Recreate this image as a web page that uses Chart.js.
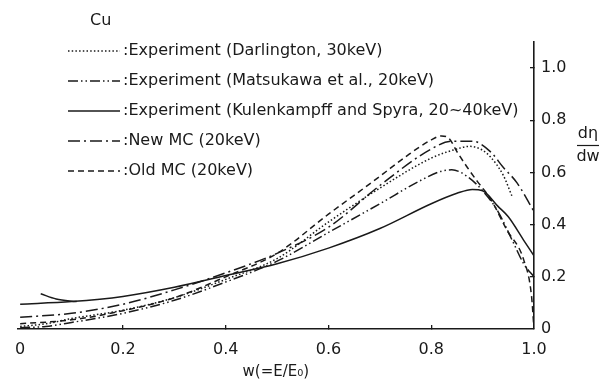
<!DOCTYPE html>
<html>
<head>
<meta charset="utf-8">
<script src="https://cdn.jsdelivr.net/npm/chart.js@4.4.1/dist/chart.umd.min.js"></script>
<style>
  html, body { margin: 0; padding: 0; background: #fff; }
  #wrap { width: 600px; height: 381px; position: relative; }
</style>
</head>
<body>
<div id="wrap"><canvas id="spectrum"></canvas></div>
<script>
// Energy spectrum of backscattered electrons from Cu, dη/dw vs w = E/E0

const xTicks = [0, 0.2, 0.4, 0.6, 0.8, 1.0];
const yTicks = [0, 0.2, 0.4, 0.6, 0.8, 1.0];

const darlingtonW   = [0, 0.05, 0.1, 0.2, 0.3, 0.4, 0.5, 0.6, 0.7, 0.8, 0.85, 0.875, 0.9, 0.915, 0.94, 0.957];
const darlingtonEta = [0.01, 0.02, 0.04, 0.072, 0.12, 0.19, 0.27, 0.41, 0.54, 0.655, 0.69, 0.70, 0.685, 0.66, 0.59, 0.51];

const matsukawaW   = [0, 0.05, 0.1, 0.2, 0.3, 0.4, 0.5, 0.6, 0.7, 0.78, 0.82, 0.84, 0.87, 0.9, 0.93, 0.96, 0.98, 1.0];
const matsukawaEta = [0.005, 0.01, 0.025, 0.06, 0.11, 0.18, 0.26, 0.37, 0.48, 0.57, 0.605, 0.61, 0.585, 0.53, 0.45, 0.33, 0.25, 0.2];

const kulenkampffW   = [0, 0.1, 0.2, 0.3, 0.4, 0.5, 0.6, 0.7, 0.8, 0.85, 0.88, 0.9, 0.93, 0.95, 0.98, 1.0];
const kulenkampffEta = [0.095, 0.105, 0.125, 0.16, 0.205, 0.25, 0.31, 0.385, 0.48, 0.52, 0.535, 0.53, 0.47, 0.43, 0.34, 0.28];

// short upper branch of the Kulenkampff band at low w
const kulenkampffHiW   = [0.04, 0.07, 0.11];
const kulenkampffHiEta = [0.135, 0.115, 0.105];

const newMcW   = [0, 0.1, 0.2, 0.3, 0.4, 0.5, 0.6, 0.7, 0.8, 0.84, 0.88, 0.915, 0.94, 0.967, 1.0];
const newMcEta = [0.045, 0.06, 0.095, 0.15, 0.215, 0.29, 0.39, 0.55, 0.69, 0.72, 0.72, 0.68, 0.62, 0.56, 0.45];

const oldMcW   = [0, 0.1, 0.2, 0.3, 0.4, 0.5, 0.6, 0.7, 0.75, 0.8, 0.82, 0.835, 0.85, 0.87, 0.89, 0.915, 0.947, 0.98, 0.995, 1.0];
const oldMcEta = [0.02, 0.035, 0.07, 0.12, 0.2, 0.29, 0.44, 0.585, 0.66, 0.725, 0.74, 0.73, 0.68, 0.62, 0.565, 0.50, 0.38, 0.265, 0.13, 0.0];

const INK = '#1a1a1a';
const FONT = 'DejaVu Sans, sans-serif';

const pts = (ws, vs) => ws.map((w, i) => ({ x: w, y: vs[i] }));

function line(label, data, dash, legend) {
  return {
    label,
    data,
    borderColor: INK,
    borderWidth: 1.5,
    borderDash: dash,
    pointRadius: 0,
    fill: false,
    cubicInterpolationMode: 'monotone',
    inLegend: legend,
  };
}

const datasets = [
  line('Experiment (Darlington, 30keV)', pts(darlingtonW, darlingtonEta), [1.5, 2.2], true),
  line('Experiment (Matsukawa et al., 20keV)', pts(matsukawaW, matsukawaEta), [10, 3, 1.5, 3, 1.5, 3], true),
  line('Experiment (Kulenkampff and Spyra, 20~40keV)', pts(kulenkampffW, kulenkampffEta), [], true),
  line('New MC (20keV)', pts(newMcW, newMcEta), [12, 4, 2, 4], true),
  line('Old MC (20keV)', pts(oldMcW, oldMcEta), [6, 4], true),
  line('', pts(kulenkampffHiW, kulenkampffHiEta), [], false),
];

// Legend block, element label and the dη/dw fraction
const annotations = {
  id: 'annotations',
  afterDraw(chart) {
    const ctx = chart.ctx;
    ctx.save();
    ctx.fillStyle = INK;
    ctx.strokeStyle = INK;
    ctx.font = '16px ' + FONT;
    ctx.textBaseline = 'middle';
    ctx.textAlign = 'left';
    ctx.fillText('Cu', 90, 21);

    const rows = [51, 81, 111, 141, 171];
    chart.data.datasets.filter(d => d.inLegend).forEach((d, i) => {
      const y = rows[i];
      ctx.beginPath();
      ctx.lineWidth = d.borderWidth;
      ctx.setLineDash(d.borderDash);
      ctx.moveTo(68, y);
      ctx.lineTo(120, y);
      ctx.stroke();
      ctx.setLineDash([]);
      ctx.fillText(':' + d.label, 123, y);
    });

    ctx.textAlign = 'center';
    ctx.fillText('dη', 588, 134);
    ctx.fillText('dw', 588, 157);
    ctx.beginPath();
    ctx.lineWidth = 1.2;
    ctx.moveTo(577, 145.5);
    ctx.lineTo(599, 145.5);
    ctx.stroke();
    ctx.restore();
  },
};

new Chart(document.getElementById('spectrum'), {
  type: 'line',
  data: { datasets },
  options: {
    responsive: true,
    maintainAspectRatio: false,
    animation: false,
    devicePixelRatio: 1,
    layout: { padding: { left: 15, top: 42, right: 0, bottom: 0 } },
    plugins: { legend: { display: false }, tooltip: { enabled: false } },
    scales: {
      x: {
        type: 'linear',
        min: -0.005,
        max: 1.0,
        afterBuildTicks: s => { s.ticks = xTicks.map(v => ({ value: v })); },
        afterFit: s => { s.height = 52; },
        ticks: {
          color: INK,
          font: { family: FONT, size: 16 },
          padding: 15,
          maxRotation: 0,
          callback: v => (v === 0 ? '0' : v.toFixed(1)),
        },
        grid: {
          drawOnChartArea: false,
          tickLength: -4,
          lineWidth: 1.3,
          color: c => (c.tick && (c.tick.value === 0 || c.tick.value === 1) ? 'rgba(0,0,0,0)' : INK),
        },
        border: { display: true, color: INK, width: 1.6 },
        title: {
          display: true,
          text: 'w(=E/E₀)',
          color: INK,
          font: { family: FONT, size: 15 },
          padding: { top: 0, bottom: 0 },
        },
      },
      y: {
        position: 'right',
        min: 0,
        max: 1.1,
        afterBuildTicks: s => { s.ticks = yTicks.map(v => ({ value: v })); },
        afterFit: s => { s.width = 66; },
        ticks: {
          color: INK,
          font: { family: FONT, size: 16 },
          padding: 11,
          callback: v => (v === 0 ? '0' : v.toFixed(1)),
        },
        grid: {
          drawOnChartArea: false,
          tickLength: -4,
          lineWidth: 1.3,
          color: c => (c.tick && c.tick.value === 0 ? 'rgba(0,0,0,0)' : INK),
        },
        border: { display: true, color: INK, width: 1.6 },
      },
    },
  },
  plugins: [annotations],
});
</script>
</body>
</html>
